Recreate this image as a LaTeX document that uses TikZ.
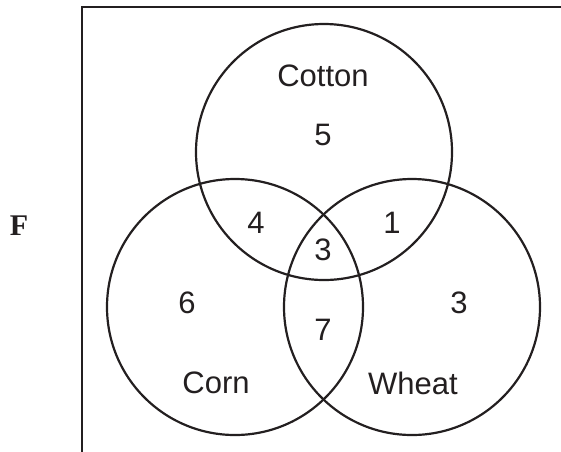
\documentclass[tikz,border=0pt]{standalone}
\usepackage{fontspec}
\setmainfont{Liberation Sans}
\newfontfamily\serifbold{Liberation Serif}
\definecolor{ink}{HTML}{231F20}
\begin{document}
\begin{tikzpicture}[x=1pt,y=-1pt,
  setcirc/.style={draw=ink,line width=2.2pt},
  frameline/.style={draw=ink,line width=2.6pt},
  lbl/.style={text=ink,font=\fontsize{31}{37}\selectfont,inner sep=0pt,anchor=center}]
\useasboundingbox (0,0) rectangle (561,451);
\coordinate (tl) at (82,7);
\coordinate (tr) at (562,7);
\coordinate (bl) at (82,452);
\draw[frameline] (tr) -- (tl) -- (bl);
\node[draw=none] (cotton) at (324,152) {};
\node[draw=none] (corn) at (235,307) {};
\node[draw=none] (wheat) at (412,307) {};
\draw[setcirc] (cotton.center) circle[radius=128];
\draw[setcirc] (corn.center) circle[radius=128];
\draw[setcirc] (wheat.center) circle[radius=128];
\node[lbl] (tcotton) at (323,76) {Cotton};
\node[lbl] (n5) at (323,135) {5};
\node[lbl] (n4) at (256,223) {4};
\node[lbl] (n1) at (392,223) {1};
\node[lbl] (n3c) at (323,250) {3};
\node[lbl] (n6) at (187,303) {6};
\node[lbl] (n3w) at (459,303) {3};
\node[lbl] (n7) at (323,330) {7};
\node[lbl] (tcorn) at (216,383) {Corn};
\node[lbl] (twheat) at (413,383) {Wheat};
\node[text=ink,font=\serifbold\bfseries\fontsize{30}{36}\selectfont,inner sep=0pt] (F) at (19,226) {F};
\end{tikzpicture}
\end{document}
